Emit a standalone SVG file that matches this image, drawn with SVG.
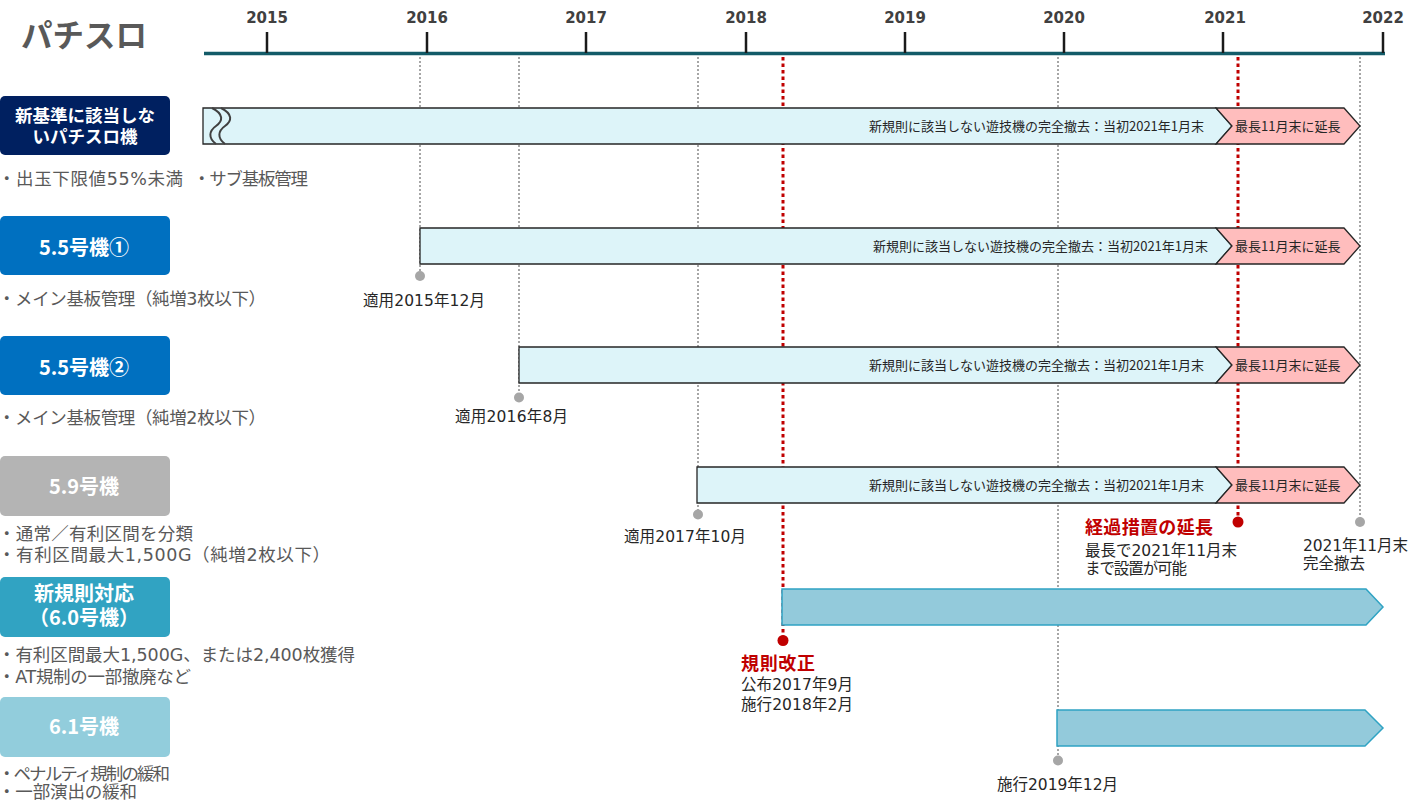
<svg xmlns="http://www.w3.org/2000/svg" width="1409" height="801" viewBox="0 0 1409 801">
<style>
.jp{font-family:"Noto Sans CJK JP","Noto Sans",sans-serif}
.mx{font-family:"DejaVu Sans","Noto Sans CJK JP",sans-serif}
.yr{font-family:"DejaVu Sans",sans-serif;font-weight:bold;font-size:15px;fill:#404040;text-anchor:middle}
.ttl{font-size:31.5px;font-weight:bold;fill:#595959}
.bul{font-size:17.5px;fill:#595959}
.ann{font-size:15.5px;fill:#262626}
.red{font-size:18px;font-weight:bold;fill:#C00000}
.lbl{fill:#fff;font-weight:bold;font-size:20px;text-anchor:middle}
.btxt{font-size:13px;fill:#262626}
.bar{fill:#DDF4F9;stroke:#262626;stroke-width:1.3}
.pink{fill:#FFBDBD;stroke:#262626;stroke-width:1.3}
.new{fill:#93CADB;stroke:#2FA3C3;stroke-width:1.5}
.gl{stroke:#A6A6A6;stroke-width:2;stroke-dasharray:2 2;fill:none}
.rl{stroke:#C00000;stroke-width:3;stroke-dasharray:3.5 3;fill:none}
.gd{fill:#A6A6A6}
.rd{fill:#C00000}
.tick{stroke:#1a1a1a;stroke-width:2.5}
.wave{fill:none;stroke:#404040;stroke-width:2}
</style>
<rect width="1409" height="801" fill="#fff"/>
<text class="jp ttl" x="21" y="47">パチスロ</text>

<g id="axis">
<line x1="204" y1="53.5" x2="1385" y2="53.5" stroke="#135B68" stroke-width="3.5"/>
<line class="tick" x1="267" y1="32" x2="267" y2="53"/>
<line class="tick" x1="427" y1="32" x2="427" y2="53"/>
<line class="tick" x1="586" y1="32" x2="586" y2="53"/>
<line class="tick" x1="746" y1="32" x2="746" y2="53"/>
<line class="tick" x1="905" y1="32" x2="905" y2="53"/>
<line class="tick" x1="1064" y1="32" x2="1064" y2="53"/>
<line class="tick" x1="1223" y1="32" x2="1223" y2="53"/>
<line class="tick" x1="1383" y1="32" x2="1383" y2="53"/>
<text class="yr" x="267" y="23">2015</text>
<text class="yr" x="427" y="23">2016</text>
<text class="yr" x="586" y="23">2017</text>
<text class="yr" x="746" y="23">2018</text>
<text class="yr" x="905" y="23">2019</text>
<text class="yr" x="1064" y="23">2020</text>
<text class="yr" x="1225" y="23">2021</text>
<text class="yr" x="1383" y="23">2022</text>
</g>

<g id="connectors">
<line class="gl" x1="420" y1="57" x2="420" y2="276"/>
<line class="gl" x1="519" y1="57" x2="519" y2="397"/>
<line class="gl" x1="698" y1="57" x2="698" y2="514"/>
<line class="gl" x1="1058" y1="57" x2="1058" y2="760"/>
<line class="gl" x1="1360" y1="57" x2="1360" y2="521"/>
<line class="rl" x1="783" y1="57" x2="783" y2="640"/>
<line class="rl" x1="1238" y1="57" x2="1238" y2="521"/>
<circle class="gd" cx="420" cy="276" r="5"/>
<circle class="gd" cx="519" cy="397.5" r="5"/>
<circle class="gd" cx="698" cy="514.5" r="5"/>
<circle class="gd" cx="1058" cy="760.5" r="5"/>
<circle class="gd" cx="1360" cy="522" r="5"/>
<circle class="rd" cx="783" cy="640.5" r="5.5"/>
<circle class="rd" cx="1238" cy="522" r="5.5"/>
</g>

<g id="node-old">
<rect x="0" y="96" width="170" height="59" rx="5" fill="#002060"/>
<text class="jp lbl" x="85" y="122" style="font-size:17.5px">新基準に該当しな</text>
<text class="jp lbl" x="85" y="143" style="font-size:17.5px">いパチスロ機</text>
<text class="mx bul" x="-2" y="185" textLength="185" lengthAdjust="spacing">・出玉下限値55%未満</text>
<text class="mx bul" x="193" y="185" textLength="115" lengthAdjust="spacing">・サブ基板管理</text>
</g>

<g id="node-55a">
<rect x="0" y="216" width="170" height="59" rx="5" fill="#0070C0"/>
<text class="jp lbl" x="84" y="255">5.5号機①</text>
<text class="mx bul" x="-2" y="305" textLength="268" lengthAdjust="spacing">・メイン基板管理（純増3枚以下）</text>
</g>

<g id="node-55b">
<rect x="0" y="336" width="170" height="59" rx="5" fill="#0070C0"/>
<text class="jp lbl" x="84" y="375">5.5号機②</text>
<text class="mx bul" x="-2" y="424" textLength="268" lengthAdjust="spacing">・メイン基板管理（純増2枚以下）</text>
</g>

<g id="node-59">
<rect x="0" y="456" width="170" height="60" rx="5" fill="#B4B4B4"/>
<text class="jp lbl" x="84" y="494">5.9号機</text>
<text class="mx bul" x="-2" y="540" textLength="195" lengthAdjust="spacing">・通常／有利区間を分類</text>
<text class="mx bul" x="-2" y="561" textLength="332" lengthAdjust="spacing">・有利区間最大1,500G（純増2枚以下）</text>
</g>

<g id="node-60">
<rect x="0" y="577" width="170" height="60" rx="5" fill="#31A3C2"/>
<text class="jp lbl" x="84" y="601">新規則対応</text>
<text class="jp lbl" x="84" y="625">（6.0号機）</text>
<text class="mx bul" x="-2" y="661" textLength="357" lengthAdjust="spacing">・有利区間最大1,500G、または2,400枚獲得</text>
<text class="mx bul" x="-2" y="683" textLength="193" lengthAdjust="spacing">・AT規制の一部撤廃など</text>
</g>

<g id="node-61">
<rect x="0" y="697" width="170" height="60" rx="5" fill="#92CDDC"/>
<text class="jp lbl" x="84" y="734">6.1号機</text>
<text class="mx bul" x="-2" y="780" textLength="172" lengthAdjust="spacing">・ペナルティ規制の緩和</text>
<text class="mx bul" x="-2" y="798" textLength="139" lengthAdjust="spacing">・一部演出の緩和</text>
</g>

<g id="bar-old">
<path class="bar" d="M203,108 H1216 L1232,126 L1216,144 H203 Z"/>
<path class="pink" d="M1216,108 H1344 L1360,126 L1344,144 H1216 L1232,126 Z"/>
<path class="wave" d="M212,108 C224,114 223,121 216,126 C209,131 208,138 216,144"/>
<path class="wave" d="M221,108 C233,114 232,121 225,126 C218,131 217,138 225,144"/>
<text class="jp btxt" x="869" y="130.5" textLength="335" lengthAdjust="spacing">新規則に該当しない遊技機の完全撤去：当初2021年1月末</text>
<text class="jp btxt" x="1235" y="130.5">最長11月末に延長</text>
</g>

<g id="bar-55a">
<path class="bar" d="M420,228 H1216 L1232,246 L1216,264 H420 Z"/>
<path class="pink" d="M1216,228 H1344 L1360,246 L1344,264 H1216 L1232,246 Z"/>
<text class="jp btxt" x="873" y="250.5" textLength="335" lengthAdjust="spacing">新規則に該当しない遊技機の完全撤去：当初2021年1月末</text>
<text class="jp btxt" x="1235" y="250.5">最長11月末に延長</text>
<text class="mx ann" x="363" y="306" textLength="122" lengthAdjust="spacing">適用2015年12月</text>
</g>

<g id="bar-55b">
<path class="bar" d="M519,347 H1216 L1232,365 L1216,383 H519 Z"/>
<path class="pink" d="M1216,347 H1344 L1360,365 L1344,383 H1216 L1232,365 Z"/>
<text class="jp btxt" x="869" y="369.5" textLength="335" lengthAdjust="spacing">新規則に該当しない遊技機の完全撤去：当初2021年1月末</text>
<text class="jp btxt" x="1235" y="369.5">最長11月末に延長</text>
<text class="mx ann" x="455" y="422" textLength="113" lengthAdjust="spacing">適用2016年8月</text>
</g>

<g id="bar-59">
<path class="bar" d="M697,467 H1216 L1232,485 L1216,503 H697 Z"/>
<path class="pink" d="M1216,467 H1344 L1360,485 L1344,503 H1216 L1232,485 Z"/>
<text class="jp btxt" x="869" y="489.5" textLength="335" lengthAdjust="spacing">新規則に該当しない遊技機の完全撤去：当初2021年1月末</text>
<text class="jp btxt" x="1235" y="489.5">最長11月末に延長</text>
<text class="mx ann" x="624" y="542" textLength="122" lengthAdjust="spacing">適用2017年10月</text>
</g>

<g id="bar-60">
<path class="new" d="M782,589 H1366 L1383,607 L1366,625 H782 Z"/>
<text class="jp red" x="741" y="670" textLength="74" lengthAdjust="spacing">規則改正</text>
<text class="mx ann" x="741" y="690" textLength="112" lengthAdjust="spacing">公布2017年9月</text>
<text class="mx ann" x="741" y="710" textLength="112" lengthAdjust="spacing">施行2018年2月</text>
</g>

<g id="bar-61">
<path class="new" d="M1057,710 H1365 L1383,728 L1365,746 H1057 Z"/>
<text class="mx ann" x="997" y="790" textLength="121" lengthAdjust="spacing">施行2019年12月</text>
</g>

<g id="note-extension">
<text class="jp red" x="1085" y="534" textLength="128" lengthAdjust="spacing">経過措置の延長</text>
<text class="mx ann" x="1085" y="556" textLength="152" lengthAdjust="spacing">最長で2021年11月末</text>
<text class="mx ann" x="1085" y="574" textLength="102" lengthAdjust="spacing">まで設置が可能</text>
</g>

<g id="note-removal">
<text class="mx ann" x="1303" y="551" textLength="105" lengthAdjust="spacing">2021年11月末</text>
<text class="mx ann" x="1303" y="569">完全撤去</text>
</g>
</svg>
